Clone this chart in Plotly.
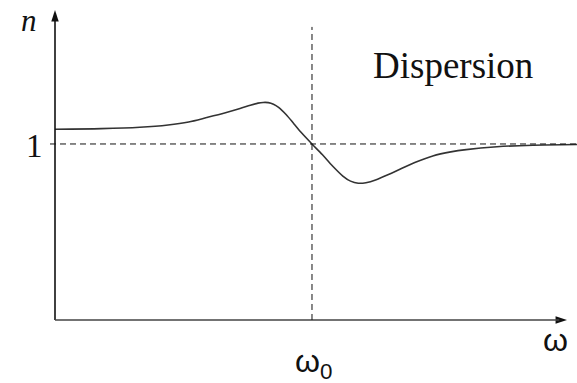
import plotly.graph_objects as go

# Data (omega in arbitrary units, omega0 = 5)
omega = [0.0, 0.9, 1.65, 2.2, 2.6, 2.95, 3.3, 3.6, 3.8, 3.95, 4.05, 4.15, 4.25,
         4.35, 4.5, 4.65, 4.8, 5.0, 5.2, 5.4, 5.6, 5.75, 5.9, 6.05, 6.25, 6.5,
         6.75, 7.0, 7.35, 7.7, 8.0, 8.6, 9.3, 10.156]
n_values = [1.084, 1.087, 1.095, 1.108, 1.125, 1.150, 1.176, 1.201, 1.220, 1.232,
            1.236, 1.235, 1.226, 1.208, 1.166, 1.114, 1.062, 1.0, 0.940, 0.875,
            0.818, 0.789, 0.777, 0.780, 0.797, 0.828, 0.862, 0.895, 0.932, 0.955,
            0.968, 0.984, 0.993, 0.997]
omega0 = 5.0
n_ref = 1.0
x_range = [-1.070, 10.156]
y_range = [-0.358, 1.818]
y_axis_top = 1.761
x_axis_end = 9.961
vline_top = 1.665
hline_start = -0.097

W, H = 577, 383

fig = go.Figure()

# main curve
fig.add_trace(go.Scatter(x=omega, y=n_values, mode="lines",
                         line=dict(color="#333333", width=1.6, shape="spline", smoothing=0.8),
                         hoverinfo="skip", showlegend=False))

# axes arrowheads
fig.add_trace(go.Scatter(x=[0, x_axis_end], y=[y_axis_top, 0], mode="markers",
                         marker=dict(symbol="arrow", size=12, angle=[0, 90],
                                     color="#111111", line=dict(width=0)),
                         hoverinfo="skip", showlegend=False))

shapes = [
    # y axis
    dict(type="line", xref="x", yref="y", x0=0, x1=0, y0=0, y1=y_axis_top - 0.03,
         line=dict(color="#111111", width=1.6)),
    # x axis
    dict(type="line", xref="x", yref="y", x0=0, x1=x_axis_end - 0.15, y0=0, y1=0,
         line=dict(color="#444444", width=1.6)),
    # dashed horizontal n = 1
    dict(type="line", xref="x", yref="y", x0=hline_start, x1=x_range[1], y0=n_ref, y1=n_ref,
         line=dict(color="#111111", width=1, dash="6px,4px")),
    # dashed vertical omega0
    dict(type="line", xref="x", yref="y", x0=omega0, x1=omega0, y0=0, y1=vline_top,
         line=dict(color="#111111", width=1, dash="6px,4px")),
]


def px(x):
    return x / W


def py(y):
    return 1 - y / H


annotations = [
    dict(text="<i>n</i>", x=px(29), y=py(20), xref="paper", yref="paper", showarrow=False,
         font=dict(family="Liberation Serif", size=31, color="#111111"),
         xanchor="center", yanchor="middle"),
    dict(text="1", x=px(34), y=py(146), xref="paper", yref="paper", showarrow=False,
         font=dict(family="Liberation Serif", size=33, color="#111111"),
         xanchor="center", yanchor="middle"),
    dict(text="Dispersion", x=px(453), y=py(66), xref="paper", yref="paper", showarrow=False,
         font=dict(family="Liberation Serif", size=37, color="#111111"),
         xanchor="center", yanchor="middle"),
    dict(text="ω", x=px(555), y=py(340), xref="paper", yref="paper", showarrow=False,
         font=dict(family="Liberation Sans", size=32, color="#111111"),
         xanchor="center", yanchor="middle"),
    dict(text="ω<sub>0</sub>", x=px(313), y=py(363), xref="paper", yref="paper", showarrow=False,
         font=dict(family="Liberation Sans", size=32, color="#111111"),
         xanchor="center", yanchor="middle"),
]

fig.update_layout(
    width=W, height=H,
    margin=dict(l=0, r=0, t=0, b=0),
    paper_bgcolor="white", plot_bgcolor="white",
    xaxis=dict(range=x_range, visible=False, fixedrange=True),
    yaxis=dict(range=y_range, visible=False, fixedrange=True),
    shapes=shapes, annotations=annotations,
    showlegend=False,
)

fig.write_html("out.html", config={"displayModeBar": False},
               post_script="document.body.style.margin='0';document.body.style.overflow='hidden';")
